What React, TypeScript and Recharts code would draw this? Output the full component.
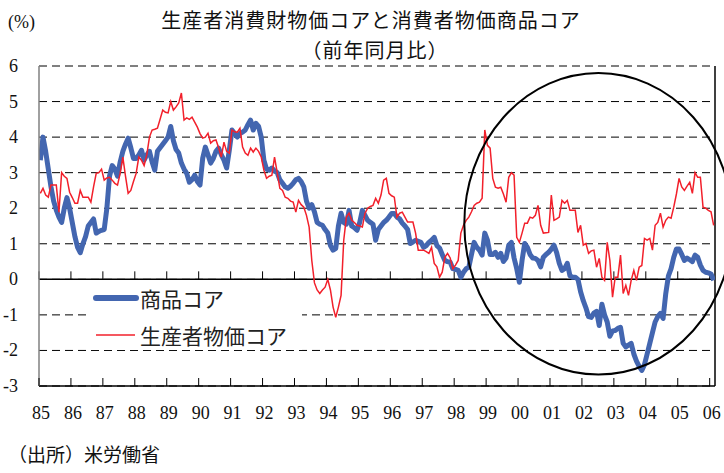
import React from 'react';
import { LineChart, Line, XAxis, YAxis, CartesianGrid, ReferenceLine, Legend } from 'recharts';

// x-axis tick labels (one per January, 1985-2006)
const yearLabels = [
  '85', '86', '87', '88', '89', '90', '91', '92', '93', '94', '95',
  '96', '97', '98', '99', '00', '01', '02', '03', '04', '05', '06',
];

// 消費者物価 商品コア (y/y %), monthly from Jan 1985
const shohinCore = [
  3.35, 4.0, 3.6, 3.1, 2.6, 2.2, 1.95, 1.75, 1.6, 2.0, 2.3, 2.0,
  1.6, 1.2, 0.9, 0.75, 1.0, 1.2, 1.5, 1.6, 1.7, 1.3, 1.35, 1.38,
  1.4, 2.0, 2.9, 3.2, 3.1, 2.9, 3.3, 3.6, 3.8, 3.97, 3.7, 3.4,
  3.4, 3.5, 3.63, 3.35, 3.5, 3.6, 3.3, 3.07, 3.6, 3.7, 3.8, 3.9,
  4.0, 4.3, 3.9, 3.65, 3.55, 3.27, 3.1, 2.98, 2.73, 2.8, 2.93, 2.75,
  2.65, 3.4, 3.72, 3.5, 3.27, 3.4, 3.6, 3.69, 3.5, 3.35, 3.13, 3.63,
  4.2, 4.1, 4.0, 4.1, 4.14, 4.2, 4.35, 4.48, 4.2, 4.39, 4.3, 4.0,
  3.35, 3.1, 3.07, 3.13, 3.05, 3.0, 2.8, 2.7, 2.6, 2.56, 2.62, 2.7,
  2.8, 2.84, 2.75, 2.6, 2.2, 2.0, 2.1, 1.9, 1.6, 1.55, 1.52, 1.4,
  1.3, 0.95, 0.82, 0.87, 1.5, 1.86, 1.6, 1.55, 1.94, 1.5, 1.45, 1.38,
  1.6, 1.94, 1.8, 1.66, 1.6, 1.55, 1.1, 1.4, 1.5, 1.6, 1.66, 1.75,
  1.85, 1.85, 1.75, 1.7, 1.58, 1.5, 1.4, 1.01, 1.05, 1.1, 1.07, 1.04,
  0.9, 0.95, 1.04, 1.1, 1.18, 0.95, 0.88, 0.7, 0.53, 0.5, 0.48, 0.3,
  0.28, 0.25, 0.06, 0.2, 0.3, 0.34, 0.7, 1.04, 0.9, 0.82, 0.68, 1.3,
  1.1, 0.7, 0.7, 0.76, 0.62, 0.73, 0.5, 0.6, 0.96, 1.04, 0.6, 0.3,
  -0.08, 0.53, 1.01, 0.9, 0.7, 0.6, 0.59, 0.53, 0.35, 0.62, 0.7, 0.76,
  0.85, 0.96, 0.75, 0.45, 0.25, 0.3, 0.45, 0.1, 0.06, 0.06, 0.0, -0.35,
  -0.6, -0.8, -1.05, -1.07, -0.95, -0.9, -1.3, -0.7, -1.0, -1.2, -1.6, -1.45,
  -1.44, -1.38, -1.35, -1.8, -1.9, -1.85, -1.8, -2.1, -2.3, -2.45, -2.56, -2.4,
  -2.1, -1.8, -1.5, -1.2, -1.05, -0.96, -1.1, -0.4, 0.1, 0.3, 0.62, 0.85,
  0.85, 0.7, 0.53, 0.6, 0.55, 0.5, 0.68, 0.62, 0.4, 0.25, 0.2, 0.18,
  0.15, -0.03,
];

// 生産者物価 消費財コア (y/y %), monthly from Jan 1985
const ppiCore = [
  2.42, 2.56, 2.37, 2.31, 2.65, 2.65, 2.65, 1.89, 3.0, 2.9, 2.84, 2.45,
  2.3, 2.14, 2.14, 2.5, 2.31, 2.31, 2.31, 2.17, 2.6, 2.98, 3.0, 3.1,
  2.79, 2.85, 2.87, 2.79, 2.7, 2.65, 2.98, 3.44, 2.9, 2.42, 2.5, 2.75,
  2.98, 3.44, 3.35, 3.2, 3.5, 4.0, 4.2, 4.22, 4.25, 4.5, 4.76, 4.7,
  4.68, 5.0, 4.76, 4.85, 4.96, 5.24, 4.48, 4.54, 4.5, 4.56, 4.42, 4.28,
  4.1, 3.97, 4.0, 4.11, 3.83, 3.9, 3.92, 3.7, 3.44, 3.86, 3.6, 3.55,
  4.2, 4.15, 4.14, 4.25, 3.72, 3.55, 3.49, 3.69, 3.58, 3.69, 3.6, 3.44,
  3.07, 2.84, 2.9, 2.93, 3.44, 3.0, 2.56, 2.5, 2.31, 2.28, 2.2, 2.17,
  1.89, 2.22, 2.1, 2.03, 1.8, 1.47, 0.53, -0.1, -0.3, -0.4, -0.3, -0.22,
  0.0, -0.3, -0.78, -1.07, -0.78, -0.45, 1.1, 1.75, 1.86, 1.66, 1.6, 1.52,
  1.5, 1.47, 1.86, 2.0, 2.05, 2.08, 2.28, 2.14, 2.37, 2.79, 2.84, 2.42,
  2.35, 2.31, 1.75, 1.86, 1.89, 1.75, 1.61, 1.61, 1.61, 1.3, 0.82, 0.82,
  0.82, 0.78, 0.73, 0.9, 0.45, 0.35, 0.06, 0.2, 0.62, 0.73, 0.6, 0.3,
  0.4, 0.53, 1.3, 1.52, 1.66, 1.75, 1.9, 2.08, 2.14, 2.17, 2.28, 4.2,
  3.77, 3.69, 2.84, 2.59, 2.56, 2.59, 2.4, 2.17, 2.87, 3.0, 2.93, 1.18,
  1.04, 1.3, 1.58, 1.58, 1.75, 1.72, 1.8, 2.08, 1.52, 1.3, 1.31, 1.32,
  2.37, 1.66, 1.7, 1.75, 2.22, 2.14, 2.22, 1.94, 1.94, 1.94, 1.32, 1.52,
  0.96, 1.01, 0.73, 0.8, 0.82, 0.34, 0.59, 0.06, -0.03, 1.04, 0.53, -0.5,
  0.06, 0.06, 0.68, -0.4, -0.17, -0.45, -0.03, 0.25, -0.03, 0.34, 0.39, 1.15,
  1.1, 1.15, 0.82, 1.52, 1.6, 1.86, 1.47, 1.66, 1.75, 1.72, 2.03, 2.4,
  2.84, 2.6, 2.5, 2.62, 2.73, 2.42, 3.0, 2.87, 2.87, 2.03, 2.0, 1.94,
  1.9, 1.52,
];

const valueTicks = [-3, -2, -1, 0, 1, 2, 3, 4, 5, 6];

const W = 724;
const H = 473;
const MARGIN = { top: 66, right: 9, bottom: 57, left: 0 };
const Y_AXIS_W = 39;
const X_AXIS_H = 30;
const X_MAX = 254;
const Y_MIN = -3;
const Y_MAX = 6;

const BLUE = '#4366B0';
const RED = '#F2202B';
const SERIF = '"Liberation Serif", "DejaVu Serif", serif';
const JP = '"Noto Sans CJK JP", "Noto Sans CJK SC", sans-serif';

const data = shohinCore.map((v, i) => ({ x: i + 0.5, shohin: v, ppi: ppiCore[i] }));
const yearTicks = yearLabels.map((_, i) => i * 12);

// plot box, for the hand-drawn ellipse
const plotLeft = MARGIN.left + Y_AXIS_W;
const plotTop = MARGIN.top;
const plotW = W - MARGIN.left - MARGIN.right - Y_AXIS_W;
const plotH = H - MARGIN.top - MARGIN.bottom - X_AXIS_H;
const px = (m: number) => plotLeft + (m / X_MAX) * plotW;
const py = (v: number) => plotTop + ((Y_MAX - v) / (Y_MAX - Y_MIN)) * plotH;

const YearTick = (props: any) => {
  const { x, y, payload } = props;
  const idx = yearTicks.indexOf(payload.value);
  return (
    <g>
      <line x1={x} x2={x} y1={y} y2={y - 8} stroke="#000" />
      <text x={x + 2} y={y + 33} textAnchor="middle" fontFamily={SERIF} fontSize={18} fill="#111">
        {yearLabels[idx]}
      </text>
    </g>
  );
};

const ValueTick = (props: any) => {
  const { y, payload } = props;
  return (
    <text x={18} y={y + 6} textAnchor="end" fontFamily={SERIF} fontSize={18} fill="#111">
      {payload.value}
    </text>
  );
};

const renderLegend = () => (
  <div style={{ background: '#fff', width: 214, fontFamily: JP, fontSize: 21, color: '#222', lineHeight: '30px' }}>
    <div style={{ display: 'flex', alignItems: 'center', height: 30 }}>
      <svg width={52} height={12}>
        <line x1={8} y1={6} x2={48} y2={6} stroke={BLUE} strokeWidth={6} strokeLinecap="round" />
      </svg>
      <span>商品コア</span>
    </div>
    <div style={{ display: 'flex', alignItems: 'center', height: 30, marginTop: 7 }}>
      <svg width={52} height={12}>
        <line x1={8} y1={6} x2={47} y2={6} stroke={RED} strokeWidth={1.5} />
      </svg>
      <span>生産者物価コア</span>
    </div>
  </div>
);

export default function App() {
  return (
    <div style={{ position: 'relative', width: W, height: H, background: '#fff' }}>
      <style>{'body{margin:0}'}</style>
      <LineChart width={W} height={H} data={data} margin={MARGIN}>
        <CartesianGrid vertical={false} stroke="#000" strokeDasharray="8 5" />
        <XAxis
          type="number"
          dataKey="x"
          domain={[0, X_MAX]}
          ticks={yearTicks}
          interval={0}
          height={X_AXIS_H}
          tickLine={false}
          tickSize={0}
          tickMargin={0}
          axisLine={{ stroke: '#000', strokeWidth: 1.5 }}
          tick={<YearTick />}
          allowDataOverflow
        />
        <YAxis
          type="number"
          domain={[Y_MIN, Y_MAX]}
          ticks={valueTicks}
          interval={0}
          width={Y_AXIS_W}
          tickLine={false}
          axisLine={{ stroke: '#808080', strokeWidth: 1.5 }}
          tick={<ValueTick />}
        />
        <ReferenceLine y={0} stroke="#000" strokeWidth={1.5} />
        <ReferenceLine x={X_MAX} stroke="#000" strokeWidth={1.5} />
        {yearTicks.map((t) => (
          <ReferenceLine key={t} segment={[{ x: t, y: 0 }, { x: t, y: 0.225 }]} stroke="#000" />
        ))}
        <Legend
          layout="vertical"
          align="center"
          verticalAlign="middle"
          content={renderLegend}
          wrapperStyle={{ left: 88, top: 283, width: 214 }}
        />
        <Line
          type="linear"
          dataKey="shohin"
          name="商品コア"
          stroke={BLUE}
          strokeWidth={5}
          strokeLinejoin="round"
          dot={false}
          isAnimationActive={false}
        />
        <Line
          type="linear"
          dataKey="ppi"
          name="生産者物価コア"
          stroke={RED}
          strokeWidth={1.5}
          dot={false}
          isAnimationActive={false}
        />
      </LineChart>
      <svg width={W} height={H} style={{ position: 'absolute', left: 0, top: 0, pointerEvents: 'none' }}>
        <text x={8} y={28} fontFamily={SERIF} fontSize={18} fill="#111">(%)</text>
        <text x={371} y={28} textAnchor="middle" fontFamily={JP} fontSize={20} letterSpacing={1} fill="#111">
          生産者消費財物価コアと消費者物価商品コア
        </text>
        <text x={375} y={58} textAnchor="middle" fontFamily={JP} fontSize={20} letterSpacing={1} fill="#111">
          （前年同月比）
        </text>
        <text x={8} y={462} fontFamily={JP} fontSize={19} fill="#111">（出所）米労働省</text>
        <ellipse
          cx={px(210.2)}
          cy={py(1.56)}
          rx={px(50.4) - px(0)}
          ry={py(0) - py(4.24)}
          fill="none"
          stroke="#000"
          strokeWidth={2}
        />
      </svg>
    </div>
  );
}
